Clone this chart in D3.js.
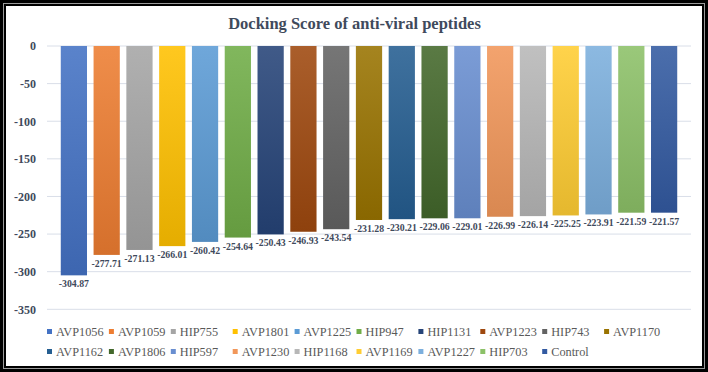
<!DOCTYPE html>
<html>
<head>
<meta charset="utf-8">
<script src="https://cdn.jsdelivr.net/npm/d3@7"></script>
<style>
  html, body { margin: 0; padding: 0; background: #fff; }
  svg { display: block; }
  text { font-family: 'Liberation Serif', 'Times New Roman', serif; }
</style>
</head>
<body>
<div id="chart"></div>
<script>
// chart data
var peptides = ['AVP1056', 'AVP1059', 'HIP755', 'AVP1801', 'AVP1225', 'HIP947', 'HIP1131', 'AVP1223', 'HIP743', 'AVP1170',
                'AVP1162', 'AVP1806', 'HIP597', 'AVP1230', 'HIP1168', 'AVP1169', 'AVP1227', 'HIP703', 'Control'];
var scores = [-304.87, -277.71, -271.13, -266.01, -260.42, -254.64, -250.43, -246.93, -243.54, -231.28,
              -230.21, -229.06, -229.01, -226.99, -226.14, -225.25, -223.91, -221.59, -221.57];
var yTicks = [0, -50, -100, -150, -200, -250, -300, -350];
var palette = ['#4472C4', '#ED7D31', '#A5A5A5', '#FFC000', '#5B9BD5', '#70AD47', '#264478', '#9E480E', '#636363', '#997300',
               '#255E91', '#43682B', '#698ED0', '#F1975A', '#B7B7B7', '#FFCD33', '#7CAFDD', '#8CC168', '#335AA1'];

var width = 708, height = 372;
var textColor = '#3f4a5c';

var svg = d3.select('#chart')
  .append('svg')
  .attr('width', width)
  .attr('height', height);

// double frame round the picture
svg.append('rect').attr('width', width).attr('height', height).attr('fill', '#000');
svg.append('rect').attr('x', 3).attr('y', 3).attr('width', width - 6).attr('height', height - 6).attr('fill', '#9a9a9a');
svg.append('rect').attr('x', 4).attr('y', 4).attr('width', width - 8).attr('height', height - 8).attr('fill', '#000');
svg.append('rect').attr('x', 6).attr('y', 6).attr('width', width - 12).attr('height', height - 12).attr('fill', '#fff');

// title
svg.append('text')
  .attr('x', 354.5)
  .attr('y', 29)
  .attr('text-anchor', 'middle')
  .attr('font-weight', 'bold')
  .attr('font-size', 16.5)
  .attr('fill', textColor)
  .text('Docking Score of anti-viral peptides');

// scales
var x = d3.scaleBand()
  .domain(peptides)
  .range([47, 691])
  .paddingInner(0.2)
  .paddingOuter(0.42);

var y = d3.scaleLinear()
  .domain([-350, 0])
  .range([309.3, 46]);

// gridlines
svg.append('g')
  .selectAll('line')
  .data(yTicks)
  .join('line')
  .attr('x1', 47)
  .attr('x2', 691)
  .attr('y1', d => y(d))
  .attr('y2', d => y(d))
  .attr('stroke', '#d9dee8')
  .attr('stroke-width', 1);

// y axis labels
var yAxis = d3.axisLeft(y).tickValues(yTicks).tickSize(0).tickPadding(0).tickFormat(d => String(d));
var yg = svg.append('g')
  .attr('transform', 'translate(36, 0)')
  .call(yAxis)
  .attr('font-family', null);
yg.select('.domain').remove();
yg.selectAll('text')
  .attr('font-weight', 'bold')
  .attr('font-size', 12)
  .attr('fill', textColor);

// gradients for bars, light at the top and darker at the bottom
var defs = svg.append('defs');
peptides.forEach((p, i) => {
  var g = defs.append('linearGradient')
    .attr('id', 'grad' + i)
    .attr('x1', 0).attr('y1', 0).attr('x2', 0).attr('y2', 1);
  g.append('stop').attr('offset', '0%').attr('stop-color', d3.interpolateRgb(palette[i], '#fff')(0.12));
  g.append('stop').attr('offset', '100%').attr('stop-color', d3.color(palette[i]).darker(0.3));
});

// bars
svg.append('g')
  .selectAll('rect')
  .data(scores)
  .join('rect')
  .attr('x', (d, i) => x(peptides[i]))
  .attr('y', y(0))
  .attr('width', x.bandwidth())
  .attr('height', d => y(d) - y(0))
  .attr('fill', (d, i) => 'url(#grad' + i + ')');

// value labels below each bar
svg.append('g')
  .selectAll('text')
  .data(scores)
  .join('text')
  .attr('x', (d, i) => x(peptides[i]) + x.bandwidth() / 2)
  .attr('y', d => y(d) + 12)
  .attr('text-anchor', 'middle')
  .attr('font-weight', 'bold')
  .attr('font-size', 9.8)
  .attr('fill', textColor)
  .text(d => d.toFixed(2));

// legend, ten equal columns
var colW = 61.9;
var legend = svg.append('g')
  .selectAll('g')
  .data(peptides)
  .join('g')
  .attr('transform', (d, i) => 'translate(' + (47 + (i % 10) * colW) + ',' + (332 + Math.floor(i / 10) * 20) + ')');

legend.append('rect')
  .attr('x', 0)
  .attr('y', -3)
  .attr('width', 5)
  .attr('height', 5)
  .attr('fill', (d, i) => palette[i]);

legend.append('text')
  .attr('x', 9)
  .attr('y', 4)
  .attr('font-size', 12.3)
  .attr('fill', '#595959')
  .text(d => d);
</script>
</body>
</html>
